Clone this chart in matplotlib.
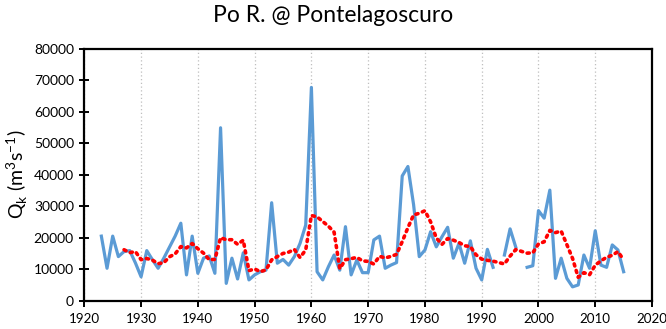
import numpy as np
import pandas as pd
import matplotlib
matplotlib.use("Agg")
import matplotlib.pyplot as plt

plt.rcParams['font.family'] = ['Lato', 'DejaVu Sans']

# annual discharge, Po river at Pontelagoscuro (thousand m3/s), NaN = missing year
years = list(range(1923, 2016))
flow_k = [
    20.5, 10.3, 20.5, 14.0, 15.6, 15.9, 12.0, 7.6, 15.9, 13.0,   # 1923-1932
    10.3, 13.5, 17.0, 20.5, 24.6, 8.2, 20.5, 8.7, 13.5, 14.2,    # 1933-1942
    8.7, 54.9, 5.5, 13.5, 6.9, 15.2, 6.6, 8.2, 9.2, 9.7,         # 1943-1952
    31.1, 11.9, 13.1, 11.3, 14.0, 18.2, 24.0, 67.7, 9.2, 6.6,    # 1953-1962
    10.8, 14.5, 9.7, 23.5, 8.2, 12.9, 8.9, 8.9, 19.3, 20.5,      # 1963-1972
    10.3, 11.3, 12.1, 39.6, 42.6, 30.5, 14.0, 16.1, 21.9, 17.1,  # 1973-1982
    20.3, 23.3, 13.5, 18.2, 11.9, 19.0, 10.3, 6.6, 16.3, 10.6,   # 1983-1992
    np.nan, 14.5, 22.8, 17.0, np.nan, 10.6, 11.1, 28.6, 26.2, 35.1,  # 1993-2002
    7.1, 13.5, 7.1, 4.4, 5.0, 14.5, 10.3, 22.2, 11.3, 10.6,      # 2003-2012
    17.7, 16.1, 9.2,                                             # 2013-2015
]
x_ticks = list(range(1920, 2021, 10))
y_ticks = list(range(0, 80001, 10000))

q = pd.Series(np.array(flow_k) * 1000, index=years)

# 5-year trailing moving average trendline (skips missing years)
valid = q.dropna()
trend = valid.rolling(5).mean().dropna()

fig = plt.figure(figsize=(6.66, 3.29), dpi=100)
ax = fig.add_axes([0.1266, 0.086, 0.8524, 0.766])

ax.plot(q.index, q.values, color='#5B9BD5', lw=2.3, solid_joinstyle='round')
ax.plot(trend.index, trend.values, color='#FF0000', lw=2.6, linestyle=(0, (0.6, 1.3)),
        dash_capstyle='round')

ax.set_xlim(1920, 2020)
ax.set_ylim(0, 80000)
ax.set_xticks(x_ticks)
ax.set_yticks(y_ticks)
ax.xaxis.grid(True, color='#BFBFBF', linestyle=(0, (1, 2)), lw=0.9)
ax.set_axisbelow(True)

for s in ax.spines.values():
    s.set_linewidth(1.6)
    s.set_color('black')
ax.tick_params(axis='y', direction='inout', length=7, width=1.4, labelsize=10, pad=4)
ax.tick_params(axis='x', direction='out', length=4, width=1.4, labelsize=9.6, pad=5)

# chart title is centred on the whole figure
fig.text(0.5, 0.933, 'Po R. @ Pontelagoscuro', fontsize=16.5, ha='center', va='baseline')
ax.set_ylabel(r'Q$_\mathregular{k}$ (m$^\mathregular{3}$s$^\mathregular{-1}$)', fontsize=14, labelpad=3)

fig.savefig('out.png', dpi=100)
